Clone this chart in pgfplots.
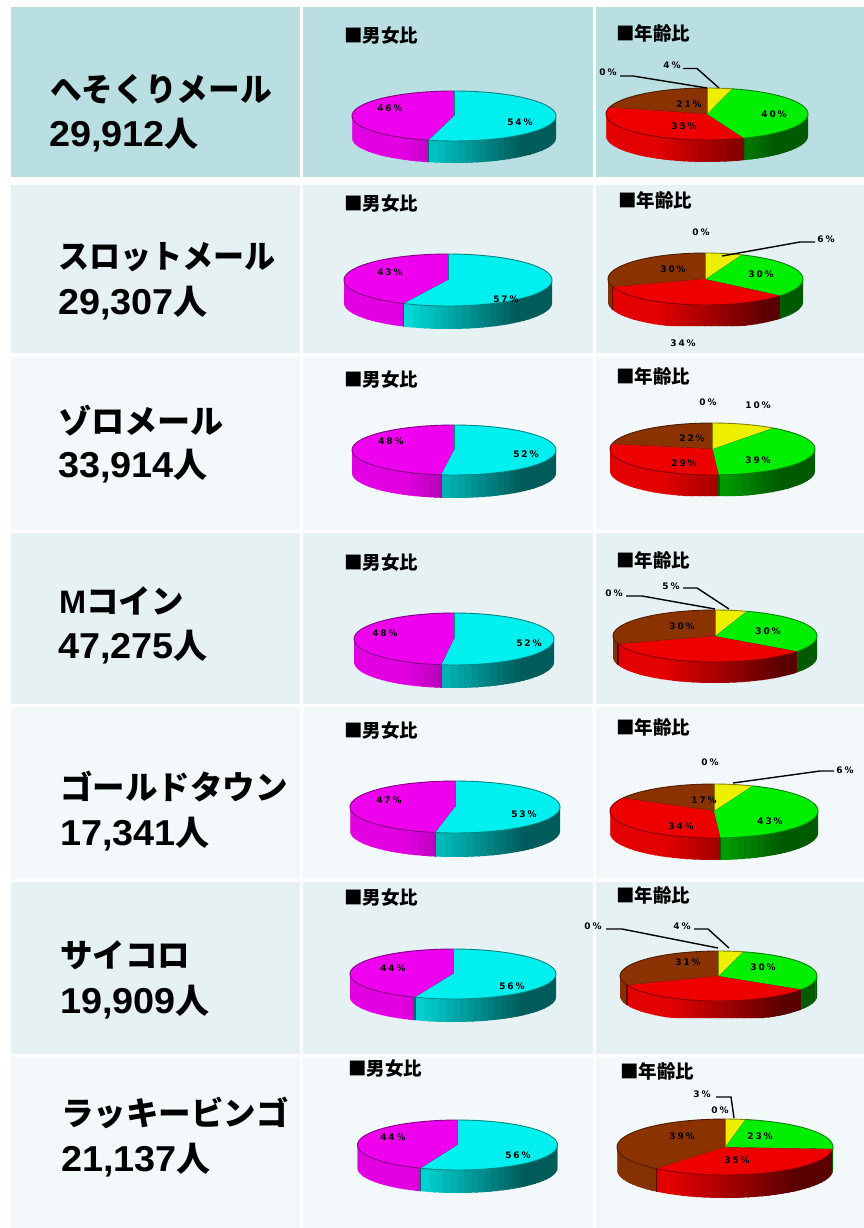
\documentclass[border=0pt]{standalone}
\usepackage{fontspec}
\usepackage{graphicx}
\usepackage{pgfplots}
\pgfplotsset{compat=1.18}
\setmainfont{Liberation Sans}
\newfontfamily\cjk{Noto Sans CJK JP}
\newfontfamily\labf{DejaVu Sans}
\definecolor{rowa}{HTML}{BADFE2}
\definecolor{rowb}{HTML}{E6F1F4}
\definecolor{rowc}{HTML}{F3F8FB}
% geometry of the current pie
\newcommand\setpie[6]{\gdef\Cx{#1}\gdef\Cy{#2}\gdef\Rx{#3}\gdef\Ry{#4}\gdef\Dp{#5}\gdef\Clip{#6}}
\newcommand\slice[5]{%
  \pgfmathsetmacro\wa{max(#1,90)}%
  \pgfmathsetmacro\wb{min(#2,270)}%
  \pgfmathtruncatemacro\haswall{\wb>\wa}%
  \ifnum\haswall=1
    \pgfmathtruncatemacro\NN{ceil((\wb-\wa)/4)}%
    \foreach \i in {1,...,\NN}{%
      \pgfmathsetmacro\ta{max(\wa,\wa+(\wb-\wa)*(\i-1)/\NN-1.5)}%
      \pgfmathsetmacro\tm{\wa+(\wb-\wa)*(\i-0.5)/\NN}%
      \pgfmathsetmacro\tb{\wa+(\wb-\wa)*\i/\NN}%
      \pgfmathsetmacro\xa{\Cx+\Rx*sin(\ta)}%
      \pgfmathsetmacro\ya{\Cy-\Ry*cos(\ta)}%
      \pgfmathsetmacro\xb{\Cx+\Rx*sin(\tb)}%
      \pgfmathsetmacro\yb{\Cy-\Ry*cos(\tb)}%
      \pgfmathsetmacro\yc{min(\yb+\Dp,\Clip)}%
      \pgfmathsetmacro\yd{min(\ya+\Dp,\Clip)}%
      \pgfmathsetmacro\tt{(\Rx*sin(\tm)+\Rx)/(2*\Rx)}%
      \pgfmathsetmacro\ff{max(0.38,min(0.95,0.95-(\tt-0.25)))}%
      \pgfmathtruncatemacro\cr{\ff*#3}%
      \pgfmathtruncatemacro\cg{\ff*#4}%
      \pgfmathtruncatemacro\cb{\ff*#5}%
      \edef\tmp{\noexpand\addplot[fill={rgb,255:red,\cr;green,\cg;blue,\cb},draw=none] coordinates {(\xa,\ya)(\xb,\yb)(\xb,\yc)(\xa,\yd)} --cycle;}\tmp
    }%
    \pgfmathtruncatemacro\hasend{#2<270}%
    \ifnum\hasend=1
      \pgfmathsetmacro\xa{\Cx+\Rx*sin(#2)}%
      \pgfmathsetmacro\ya{\Cy-\Ry*cos(#2)}%
      \pgfmathsetmacro\yd{min(\ya+\Dp,\Clip)}%
      \pgfmathtruncatemacro\cr{0.42*#3}%
      \pgfmathtruncatemacro\cg{0.42*#4}%
      \pgfmathtruncatemacro\cb{0.42*#5}%
      \edef\tmp{\noexpand\addplot[draw={rgb,255:red,\cr;green,\cg;blue,\cb},line width=1.2pt] coordinates {(\xa,\ya)(\xa,\yd)};}\tmp
    \fi
  \fi
  \pgfmathtruncatemacro\NN{ceil((#2-#1)/4)}%
  \gdef\acc{}%
  \foreach \i in {0,...,\NN}{%
    \pgfmathsetmacro\ta{#1+(#2-#1)*\i/\NN}%
    \pgfmathsetmacro\xa{\Cx+\Rx*sin(\ta)}%
    \pgfmathsetmacro\ya{\Cy-\Ry*cos(\ta)}%
    \xdef\acc{\acc(\xa,\ya)}%
  }%
  \edef\tmp{\noexpand\addplot[fill={rgb,255:red,#3;green,#4;blue,#5},draw=none] coordinates {(\Cx,\Cy)\acc} --cycle;}\tmp
  \pgfmathtruncatemacro\cr{0.55*#3}%
  \pgfmathtruncatemacro\cg{0.55*#4}%
  \pgfmathtruncatemacro\cb{0.55*#5}%
  \edef\tmp{\noexpand\addplot[draw={rgb,255:red,\cr;green,\cg;blue,\cb},line width=0.9pt] coordinates {\acc};}\tmp
  \pgfmathsetmacro\xa{\Cx+\Rx*sin(#1)}%
  \pgfmathsetmacro\ya{\Cy-\Ry*cos(#1)}%
  \edef\tmp{\noexpand\addplot[draw={rgb,255:red,\cr;green,\cg;blue,\cb},line width=0.7pt] coordinates {(\Cx,\Cy)(\xa,\ya)};}\tmp
}
\newcommand\genderpie[2]{%
  \pgfmathsetmacro\aA{#1*3.6}%
  \let\sA\aA
  \slice{\sA}{360}{238}{0}{238}%
  \slice{0}{\sA}{0}{240}{240}%
}
\newcommand\agepie[4]{%
  \pgfmathsetmacro\aA{#1*3.6}%
  \pgfmathsetmacro\aB{(#1+#2)*3.6}%
  \pgfmathsetmacro\aC{(#1+#2+#3)*3.6}%
  \let\sA\aA\let\sB\aB\let\sC\aC
  \slice{\sC}{360}{139}{51}{0}%
  \slice{\sB}{\sC}{238}{0}{0}%
  \slice{\sA}{\sB}{0}{238}{0}%
  \slice{0}{\sA}{238}{238}{0}%
}
\newcommand\bgcell[5]{\addplot[fill=#5,draw=none] coordinates {(#1,#2)(#3,#2)(#3,#4)(#1,#4)} --cycle;}
\newcommand\bgrow[3]{\bgcell{11}{#1}{300}{#2}{#3}\bgcell{303}{#1}{593}{#2}{#3}\bgcell{596}{#1}{864}{#2}{#3}}
\newcommand\nmx[4]{\node[anchor=west,inner sep=0pt,yshift=-0.5pt] at (axis cs:#2,#3) {\scalebox{#1}[1]{\fontsize{32.5}{33}\selectfont\cjk\bfseries #4}};}
\newcommand\num[3]{\node[anchor=west,inner sep=0pt,yshift=-1pt] at (axis cs:#1,#2) {\scalebox{1.05}[1]{\fontsize{36}{36}\selectfont\bfseries #3}{\fontsize{34}{34}\selectfont\cjk\bfseries 人}};}
\newcommand\hd[3]{\node[anchor=west,inner sep=0pt,xshift=-1pt,yshift=-0.5pt] at (axis cs:#1,#2) {\fontsize{18.5}{18.5}\selectfont\cjk\bfseries #3};}
\newcommand\pc[3]{\node[inner sep=0pt] at (axis cs:#1,#2) {\def\,{\kern1.9pt}\fontsize{9}{9}\selectfont\labf\bfseries #3};}
\newcommand\lead[1]{\addplot[black,line width=1.4pt] coordinates {#1};}
\begin{document}
\begin{tikzpicture}
\begin{axis}[scale only axis,width=864pt,height=1228pt,xmin=0,xmax=864,ymin=0,ymax=1228,y dir=reverse,axis lines=none]
\bgcell{0}{0}{864}{1228}{white}
\bgrow{7}{177}{rowa}
\bgrow{185}{353}{rowb}
\bgrow{357}{530}{rowc}
\bgrow{533}{704}{rowb}
\bgrow{707}{879}{rowc}
\bgrow{882}{1054}{rowb}
\bgrow{1057}{1228}{rowc}
% gender pies: cx cy rx ry depth clip
\setpie{454}{116}{102}{25}{22}{163}\genderpie{54}{46}
\setpie{448}{280}{104}{26}{23}{329}\genderpie{57}{43}
\setpie{454}{450}{102}{25}{23}{498}\genderpie{52}{48}
\setpie{454}{639}{100}{26}{23}{688}\genderpie{52}{48}
\setpie{455}{807}{105}{26}{24}{857}\genderpie{53}{47}
\setpie{453}{974}{103}{25}{23}{1023}\genderpie{56}{44}
\setpie{457.5}{1145}{100}{25}{23}{1193}\genderpie{56}{44}
% age pies
\setpie{707}{114}{101}{26}{22}{162}\agepie{4}{40}{35}{21}
\setpie{705.5}{279}{97.5}{26}{23}{326}\agepie{6}{30}{34}{30}
\setpie{712.5}{449}{102.5}{26}{22}{496}\agepie{10}{39}{29}{22}
\setpie{715}{636}{102}{26}{21}{683}\agepie{5}{30}{35}{30}
\setpie{714}{811}{104}{27}{22}{860}\agepie{6}{43}{34}{17}
\setpie{718.5}{976}{98.5}{25}{20}{1018}\agepie{4}{30}{35}{31}
\setpie{725}{1147}{108}{28}{23}{1198}\agepie{3}{23}{35}{39}
% leader lines
\lead{(620,76)(633,76)(707,88)}
\lead{(683,68.5)(697,68.5)(719,88)}
\lead{(722,256)(800,242)(815,242)}
\lead{(626,596)(642,596)(715,609)}
\lead{(683,588)(697,588)(729,609)}
\lead{(733,783)(820,771)(834,771)}
\lead{(606,929)(622,929)(718,948)}
\lead{(694,929)(708,929)(729,948)}
\lead{(716,1097)(731,1097)(734,1118)}
% names
\nmx{0.975}{50}{89}{へそくりメール}\num{49}{134}{29,912}
\nmx{0.955}{58}{257}{スロットメール}\num{58}{302}{29,307}
\nmx{1.02}{58}{420}{ゾロメール}\num{58}{465}{33,914}
\node[anchor=west,inner sep=0pt,yshift=-0.5pt] at (axis cs:59,600) {\fontsize{32.5}{33}\selectfont\bfseries M\cjk コイン};
\num{58}{646}{47,275}
\nmx{1}{60}{786}{ゴールドタウン}\num{60}{833}{17,341}
\nmx{1}{60}{955}{サイコロ}\num{60}{1001}{19,909}
\nmx{1}{61}{1112}{ラッキービンゴ}\num{61}{1159}{21,137}
% headings
\hd{345}{35}{■男女比}\hd{617}{33}{■年齢比}
\hd{345}{203}{■男女比}\hd{619}{200}{■年齢比}
\hd{345}{379}{■男女比}\hd{617}{376}{■年齢比}
\hd{345}{562}{■男女比}\hd{617}{560}{■年齢比}
\hd{345}{730}{■男女比}\hd{617}{727}{■年齢比}
\hd{345}{897}{■男女比}\hd{617}{895}{■年齢比}
\hd{349}{1068}{■男女比}\hd{621}{1071}{■年齢比}
% gender labels
\pc{390}{108}{4\,6\,\%}\pc{520}{122}{5\,4\,\%}
\pc{390}{272}{4\,3\,\%}\pc{506}{299}{5\,7\,\%}
\pc{391}{441}{4\,8\,\%}\pc{526}{454}{5\,2\,\%}
\pc{385}{633}{4\,8\,\%}\pc{529}{643}{5\,2\,\%}
\pc{389}{800}{4\,7\,\%}\pc{524}{814}{5\,3\,\%}
\pc{393}{968}{4\,4\,\%}\pc{512}{986}{5\,6\,\%}
\pc{393}{1137}{4\,4\,\%}\pc{518}{1155}{5\,6\,\%}
% age labels
\pc{608}{72}{0\,\%}\pc{672}{65}{4\,\%}\pc{689}{104}{2\,1\,\%}\pc{684}{126}{3\,5\,\%}\pc{774}{114}{4\,0\,\%}
\pc{701}{232}{0\,\%}\pc{826}{239}{6\,\%}\pc{673}{269}{3\,0\,\%}\pc{761}{274}{3\,0\,\%}\pc{683}{343}{3\,4\,\%}
\pc{708}{402}{0\,\%}\pc{758}{405}{1\,0\,\%}\pc{692}{438}{2\,2\,\%}\pc{684}{463}{2\,9\,\%}\pc{758}{460}{3\,9\,\%}
\pc{614}{593}{0\,\%}\pc{671}{586}{5\,\%}\pc{682}{626}{3\,0\,\%}\pc{768}{631}{3\,0\,\%}
\pc{710}{762}{0\,\%}\pc{845}{770}{6\,\%}\pc{704}{800}{1\,7\,\%}\pc{681}{826}{3\,4\,\%}\pc{770}{821}{4\,3\,\%}
\pc{593}{926}{0\,\%}\pc{682}{926}{4\,\%}\pc{688}{962}{3\,1\,\%}\pc{763}{967}{3\,0\,\%}
\pc{702}{1094}{3\,\%}\pc{720}{1110}{0\,\%}\pc{682}{1136}{3\,9\,\%}\pc{760}{1136}{2\,3\,\%}\pc{737}{1160}{3\,5\,\%}
\end{axis}
\end{tikzpicture}
\end{document}
